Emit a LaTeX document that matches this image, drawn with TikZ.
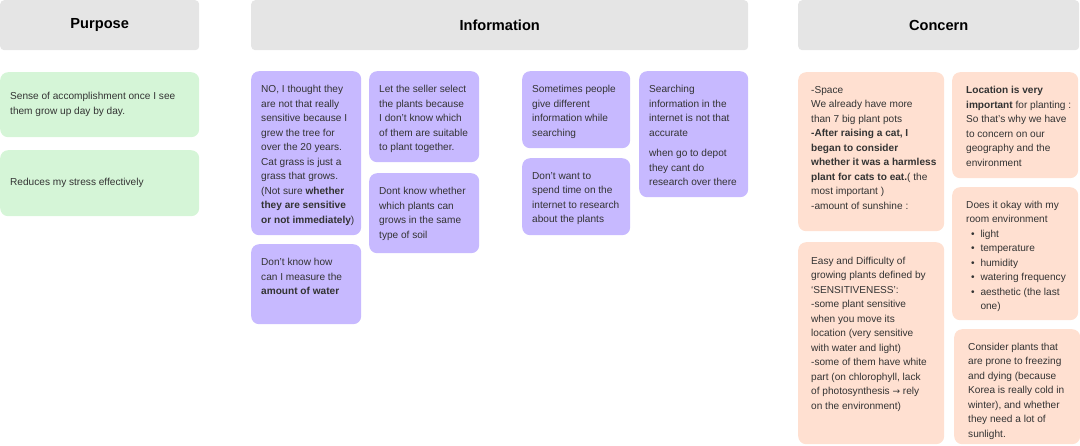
\documentclass[tikz,border=0pt]{standalone}
\usepackage{fontspec}
\setmainfont{Liberation Sans}
\newfontfamily\dejavu{DejaVu Sans}
\definecolor{hdrgray}{HTML}{E5E5E5}
\definecolor{greencard}{HTML}{D5F5D7}
\definecolor{purplecard}{HTML}{C7B9FF}
\definecolor{peachcard}{HTML}{FFE0D1}
\definecolor{txtc}{HTML}{333333}
\newcommand\myblt{\makebox[14.3pt][l]{\hspace*{5pt}•}}
\begin{document}
\begin{tikzpicture}[x=1pt,y=-1pt,
  hdr/.style={fill=hdrgray, rounded corners=4pt, inner sep=0, anchor=north west,
    font=\fontsize{14.6}{16}\selectfont\bfseries, text=black},
  card/.style={rounded corners=8pt, inner sep=0, anchor=north west},
  gcard/.style={card, fill=greencard},
  pcard/.style={card, fill=purplecard},
  ocard/.style={card, fill=peachcard},
  txt/.style={anchor=north west, inner sep=0, align=left, text=txtc,
    font=\fontsize{10.1}{14.5}\selectfont}]
\useasboundingbox (0,0) rectangle (1080,445);

% headers
\node[hdr, minimum width=199pt, minimum height=50pt] (hP) at (0,0) {Purpose};
\node[hdr, minimum width=497pt, minimum height=50pt] (hI) at (251,0) {Information};
\node[hdr, minimum width=281pt, minimum height=50pt] (hC) at (798,0) {Concern};

% purpose
\node[gcard, minimum width=199pt, minimum height=65pt] (p1) at (0,72) {};
\node[txt, anchor=west] (tp1) at ([xshift=10pt,yshift=0.5pt]p1.west) {Sense of accomplishment once I see\\them grow up day by day.};
\node[gcard, minimum width=199pt, minimum height=66pt] (p2) at (0,150) {};
\node[txt, anchor=west] (tp2) at ([xshift=10pt,yshift=0.5pt]p2.west) {Reduces my stress effectively};

% information
\node[pcard, minimum width=110pt, minimum height=164pt] (cA) at (251,71) {};
\node[txt] (tA) at ([xshift=10pt,yshift=-14pt]cA.north west) {NO, I thought they\\are not that really\\sensitive because I\\grew the tree for\\over the 20 years.\\Cat grass is just a\\grass that grows.\\(Not sure \textbf{whether}\\\textbf{they are sensitive}\\\textbf{or not immediately})};

\node[pcard, minimum width=110pt, minimum height=91pt] (cB) at (369,71) {};
\node[txt] (tB) at ([xshift=10pt,yshift=-14pt]cB.north west) {Let the seller select\\the plants because\\I don’t know which\\of them are suitable\\to plant together.};

\node[pcard, minimum width=110pt, minimum height=80pt] (cC) at (369,173) {};
\node[txt] (tC) at ([xshift=10pt,yshift=-14pt]cC.north west) {Dont know whether\\which plants can\\grows in the same\\type of soil};

\node[pcard, minimum width=110pt, minimum height=80pt] (cD) at (251,244) {};
\node[txt] (tD) at ([xshift=10pt,yshift=-14pt]cD.north west) {Don’t know how\\can I measure the\\\textbf{amount of water}};

\node[pcard, minimum width=108pt, minimum height=77pt] (cE) at (522,71) {};
\node[txt] (tE) at ([xshift=10pt,yshift=-14pt]cE.north west) {Sometimes people\\give different\\information while\\searching};

\node[pcard, minimum width=108pt, minimum height=77pt] (cF) at (522,158) {};
\node[txt] (tF) at ([xshift=10pt,yshift=-14pt]cF.north west) {Don’t want to\\spend time on the\\internet to research\\about the plants};

\node[pcard, minimum width=109pt, minimum height=126pt] (cG) at (639,71) {};
\node[txt] (tG) at ([xshift=10pt,yshift=-14pt]cG.north west) {Searching\\information in the\\internet is not that\\accurate\\[6.2pt]when go to depot\\they cant do\\research over there};

% concern
\node[ocard, minimum width=146pt, minimum height=159pt] (cH) at (798,72) {};
\node[txt] (tH) at ([xshift=13pt,yshift=-14pt]cH.north west) {-Space\\We already have more\\than 7 big plant pots\\\textbf{-After raising a cat, I}\\\textbf{began to consider}\\\textbf{whether it was a harmless}\\\textbf{plant for cats to eat.}( the\\most important )\\-amount of sunshine :};

\node[ocard, minimum width=126pt, minimum height=106pt] (cI) at (952,72) {};
\node[txt] (tI) at ([xshift=14pt,yshift=-14pt]cI.north west) {\textbf{Location is very}\\\textbf{important} for planting :\\So that’s why we have\\to concern on our\\geography and the\\environment};

\node[ocard, minimum width=126pt, minimum height=133pt] (cJ) at (952,187) {};
\node[txt] (tJ) at ([xshift=14pt,yshift=-13.5pt]cJ.north west) {Does it okay with my\\room environment\\\myblt light\\\myblt temperature\\\myblt humidity\\\myblt watering frequency\\\myblt aesthetic (the last\\\makebox[14.3pt]{}one)};

\node[ocard, minimum width=146pt, minimum height=202pt] (cK) at (798,242) {};
\node[txt] (tK) at ([xshift=13pt,yshift=-14.5pt]cK.north west) {Easy and Difficulty of\\growing plants defined by\\‘SENSITIVENESS’:\\-some plant sensitive\\when you move its\\location (very sensitive\\with water and light)\\-some of them have white\\part (on chlorophyll, lack\\of photosynthesis {\dejavu\fontsize{9}{14.5}\selectfont →} rely\\on the environment)};

\node[ocard, minimum width=126pt, minimum height=115pt] (cL) at (954,329) {};
\node[txt] (tL) at ([xshift=14pt,yshift=-13.5pt]cL.north west) {Consider plants that\\are prone to freezing\\and dying (because\\Korea is really cold in\\winter), and whether\\they need a lot of\\sunlight.};
\end{tikzpicture}
\end{document}
